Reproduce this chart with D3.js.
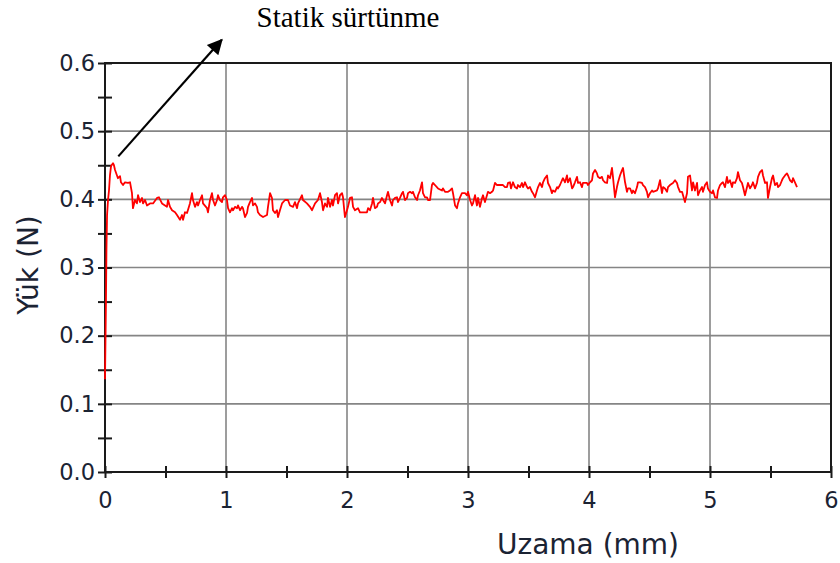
<!DOCTYPE html>
<html>
<head>
<meta charset="utf-8">
<script src="https://cdn.jsdelivr.net/npm/d3@7"></script>
<style>
  html, body { margin: 0; padding: 0; background: #fff; }
  svg { display: block; }
</style>
</head>
<body>
<svg id="chart" width="840" height="563"></svg>
<script>
// Friction test: load (N) versus elongation (mm)
const xTicks = [0, 1, 2, 3, 4, 5, 6];
const yTicks = [0.0, 0.1, 0.2, 0.3, 0.4, 0.5, 0.6];
const xMinorTicks = [0.5, 1.5, 2.5, 3.5, 4.5, 5.5];
const yMinorTicks = [0.05, 0.15, 0.25, 0.35, 0.45, 0.55];
const xTitle = "Uzama (mm)";
const yTitle = "Yük (N)";
const annotationText = "Statik sürtünme";
// arrow from the static-friction peak up towards the label
const arrowFrom = [0.11, 0.463];
const arrowTo = [0.965, 0.634];

// [elongation mm, load N]
const curve = [
  [0.000,0.136],[0.004,0.194],[0.008,0.252],[0.012,0.326],[0.017,0.377],[0.025,0.399],[0.033,0.413],
  [0.041,0.435],[0.050,0.449],[0.066,0.453],[0.074,0.450],[0.083,0.443],[0.099,0.435],[0.107,0.431],
  [0.124,0.434],[0.132,0.425],[0.149,0.421],[0.165,0.425],[0.190,0.424],[0.207,0.425],[0.223,0.409],
  [0.231,0.387],[0.248,0.399],[0.264,0.394],[0.273,0.406],[0.289,0.396],[0.306,0.402],[0.314,0.394],
  [0.331,0.399],[0.347,0.391],[0.372,0.394],[0.397,0.394],[0.430,0.402],[0.446,0.403],[0.471,0.394],
  [0.496,0.391],[0.512,0.389],[0.521,0.399],[0.537,0.389],[0.554,0.384],[0.579,0.381],[0.595,0.377],
  [0.620,0.370],[0.636,0.377],[0.645,0.370],[0.661,0.381],[0.678,0.380],[0.702,0.394],[0.719,0.409],
  [0.727,0.399],[0.744,0.389],[0.760,0.396],[0.769,0.391],[0.785,0.399],[0.802,0.406],[0.810,0.394],
  [0.843,0.387],[0.851,0.381],[0.868,0.399],[0.884,0.409],[0.893,0.399],[0.909,0.391],[0.926,0.399],
  [0.934,0.406],[0.950,0.399],[0.967,0.396],[0.975,0.403],[0.992,0.406],[1.008,0.399],[1.017,0.387],
  [1.033,0.381],[1.050,0.387],[1.058,0.384],[1.074,0.389],[1.091,0.387],[1.099,0.391],[1.116,0.384],
  [1.132,0.389],[1.140,0.387],[1.157,0.374],[1.174,0.380],[1.182,0.389],[1.198,0.396],[1.215,0.402],
  [1.223,0.391],[1.240,0.394],[1.256,0.389],[1.264,0.381],[1.281,0.377],[1.306,0.374],[1.339,0.377],
  [1.347,0.389],[1.364,0.409],[1.380,0.402],[1.388,0.384],[1.405,0.380],[1.421,0.384],[1.430,0.374],
  [1.446,0.384],[1.463,0.394],[1.488,0.399],[1.512,0.399],[1.529,0.391],[1.554,0.389],[1.570,0.396],
  [1.587,0.387],[1.595,0.394],[1.628,0.406],[1.636,0.399],[1.669,0.394],[1.694,0.389],[1.711,0.384],
  [1.736,0.394],[1.760,0.399],[1.777,0.409],[1.793,0.396],[1.802,0.384],[1.818,0.394],[1.835,0.389],
  [1.843,0.402],[1.860,0.389],[1.876,0.399],[1.884,0.391],[1.901,0.406],[1.917,0.409],[1.926,0.394],
  [1.942,0.406],[1.959,0.409],[1.967,0.403],[1.983,0.374],[2.000,0.384],[2.008,0.389],[2.025,0.402],
  [2.041,0.403],[2.050,0.389],[2.066,0.384],[2.091,0.387],[2.107,0.381],[2.132,0.381],[2.165,0.381],
  [2.174,0.387],[2.190,0.384],[2.207,0.394],[2.215,0.402],[2.231,0.387],[2.248,0.389],[2.256,0.394],
  [2.273,0.396],[2.289,0.402],[2.298,0.399],[2.314,0.394],[2.331,0.406],[2.339,0.411],[2.355,0.399],
  [2.372,0.391],[2.380,0.399],[2.397,0.402],[2.413,0.403],[2.421,0.396],[2.438,0.402],[2.455,0.409],
  [2.463,0.411],[2.479,0.399],[2.496,0.402],[2.504,0.409],[2.521,0.411],[2.537,0.409],[2.545,0.411],
  [2.562,0.403],[2.579,0.399],[2.587,0.406],[2.603,0.413],[2.620,0.425],[2.628,0.409],[2.645,0.403],
  [2.661,0.403],[2.669,0.399],[2.686,0.399],[2.702,0.421],[2.711,0.424],[2.727,0.421],[2.752,0.416],
  [2.785,0.413],[2.793,0.416],[2.810,0.411],[2.835,0.411],[2.851,0.413],[2.868,0.416],[2.876,0.409],
  [2.893,0.391],[2.909,0.387],[2.917,0.394],[2.934,0.403],[2.950,0.409],[2.975,0.409],[2.992,0.406],
  [3.000,0.411],[3.017,0.399],[3.033,0.391],[3.041,0.394],[3.058,0.406],[3.074,0.391],[3.083,0.402],
  [3.099,0.389],[3.116,0.402],[3.124,0.406],[3.140,0.396],[3.157,0.406],[3.165,0.411],[3.182,0.409],
  [3.198,0.411],[3.207,0.413],[3.223,0.424],[3.240,0.421],[3.264,0.421],[3.289,0.421],[3.306,0.418],
  [3.322,0.418],[3.331,0.424],[3.347,0.425],[3.355,0.416],[3.364,0.421],[3.372,0.425],[3.388,0.418],
  [3.405,0.416],[3.413,0.421],[3.430,0.418],[3.446,0.424],[3.455,0.418],[3.471,0.425],[3.488,0.418],
  [3.496,0.416],[3.512,0.418],[3.529,0.411],[3.537,0.409],[3.554,0.403],[3.570,0.413],[3.579,0.418],
  [3.595,0.424],[3.612,0.418],[3.620,0.425],[3.636,0.431],[3.653,0.435],[3.661,0.424],[3.678,0.418],
  [3.694,0.409],[3.702,0.413],[3.719,0.411],[3.736,0.418],[3.744,0.416],[3.760,0.421],[3.777,0.428],
  [3.785,0.431],[3.802,0.425],[3.818,0.435],[3.826,0.425],[3.843,0.431],[3.860,0.416],[3.868,0.418],
  [3.884,0.425],[3.901,0.433],[3.909,0.424],[3.926,0.425],[3.942,0.418],[3.950,0.424],[3.983,0.424],
  [3.992,0.421],[4.008,0.425],[4.025,0.428],[4.033,0.438],[4.050,0.443],[4.066,0.438],[4.074,0.433],
  [4.091,0.431],[4.107,0.433],[4.116,0.428],[4.132,0.425],[4.149,0.424],[4.157,0.435],[4.174,0.431],
  [4.190,0.446],[4.198,0.433],[4.215,0.403],[4.231,0.418],[4.240,0.425],[4.256,0.435],[4.273,0.443],
  [4.281,0.446],[4.298,0.425],[4.314,0.411],[4.322,0.416],[4.339,0.416],[4.355,0.409],[4.364,0.413],
  [4.380,0.409],[4.397,0.418],[4.405,0.425],[4.421,0.425],[4.438,0.424],[4.446,0.421],[4.463,0.418],
  [4.479,0.411],[4.488,0.403],[4.504,0.409],[4.521,0.413],[4.529,0.411],[4.562,0.413],[4.570,0.416],
  [4.587,0.428],[4.603,0.409],[4.612,0.418],[4.628,0.416],[4.645,0.411],[4.653,0.418],[4.669,0.421],
  [4.694,0.424],[4.711,0.428],[4.727,0.424],[4.736,0.418],[4.752,0.411],[4.769,0.411],[4.777,0.406],
  [4.793,0.396],[4.810,0.409],[4.818,0.433],[4.835,0.435],[4.851,0.413],[4.860,0.425],[4.876,0.413],
  [4.893,0.424],[4.901,0.406],[4.917,0.413],[4.934,0.418],[4.942,0.411],[4.959,0.421],[4.975,0.425],
  [4.983,0.416],[5.000,0.411],[5.017,0.409],[5.025,0.413],[5.041,0.403],[5.058,0.402],[5.066,0.413],
  [5.083,0.421],[5.099,0.424],[5.107,0.425],[5.124,0.418],[5.140,0.433],[5.149,0.424],[5.165,0.428],
  [5.182,0.418],[5.190,0.425],[5.207,0.424],[5.223,0.431],[5.231,0.440],[5.248,0.428],[5.264,0.424],
  [5.273,0.418],[5.289,0.406],[5.306,0.418],[5.314,0.424],[5.331,0.416],[5.347,0.421],[5.355,0.425],
  [5.372,0.416],[5.388,0.424],[5.397,0.433],[5.413,0.440],[5.430,0.443],[5.438,0.435],[5.455,0.424],
  [5.471,0.425],[5.479,0.402],[5.496,0.418],[5.512,0.431],[5.521,0.435],[5.537,0.421],[5.554,0.424],
  [5.562,0.418],[5.579,0.421],[5.595,0.428],[5.603,0.431],[5.620,0.435],[5.636,0.438],[5.645,0.435],
  [5.661,0.428],[5.678,0.425],[5.686,0.431],[5.702,0.425],[5.719,0.418]
];

const W = 840, H = 563;
const margin = { top: 63, right: 9, bottom: 91, left: 105 };
const iw = W - margin.left - margin.right;
const ih = H - margin.top - margin.bottom;

const svg = d3.select("#chart");
const g = svg.append("g").attr("transform", `translate(${margin.left},${margin.top})`);

const x = d3.scaleLinear().domain([0, 6]).range([0, iw]);
const y = d3.scaleLinear().domain([0, 0.6]).range([ih, 0]);

const labelFont = "DejaVu Sans, Verdana, sans-serif";
const textColor = "#1b2333";

// grid
g.append("g").selectAll("line").data(xTicks.slice(1, -1)).join("line")
  .attr("x1", d => x(d)).attr("x2", d => x(d)).attr("y1", 0).attr("y2", ih)
  .attr("stroke", "#858585").attr("stroke-width", 1.6);
g.append("g").selectAll("line").data(yTicks.slice(1, -1)).join("line")
  .attr("y1", d => y(d)).attr("y2", d => y(d)).attr("x1", 0).attr("x2", iw)
  .attr("stroke", "#858585").attr("stroke-width", 1.6);

// frame
g.append("rect").attr("x", 0).attr("y", 0).attr("width", iw).attr("height", ih)
  .attr("fill", "none").attr("stroke", "#1a1a1a").attr("stroke-width", 2);

// axes: ticks cross the axis line
const xAxis = d3.axisBottom(x).tickValues(xTicks.concat(xMinorTicks)).tickSize(6)
  .tickFormat(d => xTicks.includes(d) ? d3.format("d")(d) : "");
const yAxis = d3.axisLeft(y).tickValues(yTicks.concat(yMinorTicks)).tickSize(6)
  .tickFormat(d => yTicks.some(t => Math.abs(t - d) < 1e-9) ? d3.format(".1f")(d) : "");

const gx = g.append("g").attr("transform", `translate(0,${ih})`).call(xAxis);
const gy = g.append("g").call(yAxis);

[gx, gy].forEach(a => {
  a.select(".domain").remove();
  a.selectAll(".tick line").attr("stroke", "#1a1a1a").attr("stroke-width", 2);
  a.selectAll(".tick text").attr("fill", textColor)
    .attr("font-family", labelFont).attr("font-size", 22.5);
});
gx.selectAll(".tick line").attr("y1", -6).attr("y2", 6);
gx.selectAll(".tick text").attr("y", 20);
gy.selectAll(".tick line").attr("x1", -7).attr("x2", 7);
gy.selectAll(".tick text").attr("x", -10);

// data line
const line = d3.line().x(d => x(d[0])).y(d => y(d[1]));
g.append("path").datum(curve).attr("d", line)
  .attr("fill", "none").attr("stroke", "#ff0000").attr("stroke-width", 1.8)
  .attr("stroke-linejoin", "round");

// axis titles
svg.append("text").attr("x", 588).attr("y", 554).attr("text-anchor", "middle")
  .attr("fill", textColor).attr("font-family", labelFont).attr("font-size", 28)
  .text(xTitle);
svg.append("text").attr("transform", `translate(38,${265}) rotate(-90)`)
  .attr("text-anchor", "middle").attr("fill", textColor)
  .attr("font-family", labelFont).attr("font-size", 28).text(yTitle);

// annotation
svg.append("defs").append("marker").attr("id", "head")
  .attr("viewBox", "0 0 10 10").attr("refX", 9).attr("refY", 5)
  .attr("markerWidth", 8).attr("markerHeight", 7).attr("markerUnits", "strokeWidth")
  .attr("orient", "auto")
  .append("path").attr("d", "M0,0 L10,5 L0,10 Z").attr("fill", "#000");
g.append("line")
  .attr("x1", x(arrowFrom[0])).attr("y1", y(arrowFrom[1]))
  .attr("x2", x(arrowTo[0])).attr("y2", y(arrowTo[1]))
  .attr("stroke", "#000").attr("stroke-width", 2.2).attr("marker-end", "url(#head)");
svg.append("text").attr("x", 348).attr("y", 27).attr("text-anchor", "middle")
  .attr("fill", "#000").attr("font-family", "Liberation Serif, Times New Roman, serif")
  .attr("font-size", 29).text(annotationText);
</script>
</body>
</html>
